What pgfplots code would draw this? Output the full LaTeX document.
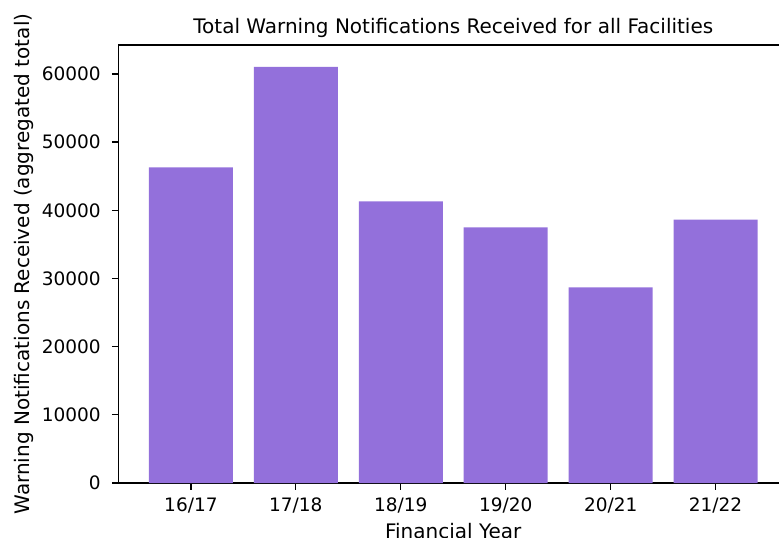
\documentclass[border=0pt]{standalone}
\usepackage{pgfplots}
\pgfplotsset{compat=1.18}
\usepackage{fontspec}
\setmainfont{DejaVu Sans}
\definecolor{mpurple}{HTML}{9370DB}
\begin{document}
\begin{tikzpicture}
\fontsize{18.5}{22}\selectfont
\useasboundingbox (-118.5pt,-55pt) rectangle (660.5pt,483pt);
\clip (-118.5pt,-55pt) rectangle (660.5pt,483pt);
\begin{axis}[
  at={(0pt,0pt)}, anchor=south west,
  width=669.5pt, height=438pt, scale only axis,
  xmin=-0.69, xmax=5.69, ymin=0, ymax=64250,
  xtick={0,1,2,3,4,5},
  xticklabels={16/17,17/18,18/19,19/20,20/21,21/22},
  ytick={0,10000,20000,30000,40000,50000,60000},
  scaled y ticks=false,
  /pgf/number format/1000 sep={},
  /pgf/number format/assume math mode=true,
  tick label style={font=\fontsize{18.5}{22}\selectfont},
  label style={font=\fontsize{20}{24}\selectfont},
  title style={font=\fontsize{20}{24}\selectfont, at={(axis description cs:0.5,1)}, anchor=base, yshift=5pt},
  xtick pos=bottom, ytick pos=left,
  tick align=outside,
  major tick length=6.5pt,
  every tick/.style={black, line width=1.3pt},
  axis line style={line width=1.4pt},
  xticklabel style={yshift=-2pt},
  yticklabel style={xshift=-5pt},
  title={Total Warning Notifications Received for all Facilities},
  xlabel={Financial Year},
  ylabel={Warning Notifications Received (aggregated total)},
  xlabel style={at={([yshift=-55.5pt]axis description cs:0.5,0)}, anchor=base},
  ylabel style={at={([xshift=-89pt]axis description cs:0,0.5)}, anchor=base},
]
\addplot[ybar, bar width=0.8, bar shift=0pt, fill=mpurple, draw=none]
  coordinates {(0,46300) (1,61050) (2,41300) (3,37500) (4,28700) (5,38650)};
\end{axis}
\end{tikzpicture}
\end{document}
